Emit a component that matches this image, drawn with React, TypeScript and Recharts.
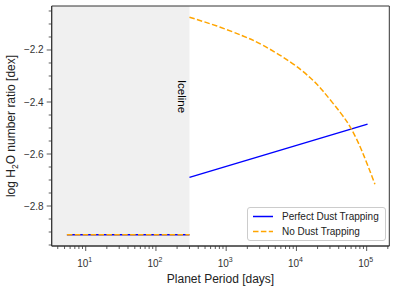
import { LineChart, Line, XAxis, YAxis, ReferenceArea, Legend } from "recharts";

// inner disc (inside the iceline): both models give the same ratio
const innerPerfect = [
  { p: 5.4, v: -2.911 },
  { p: 300, v: -2.911 },
];
const innerNoTrap = [
  { p: 5.4, v: -2.911 },
  { p: 300, v: -2.911 },
];

// outside the iceline
const outerPerfect = [
  { p: 300, v: -2.69 },
  { p: 103000, v: -2.485 },
];
const outerNoTrap = [
  { p: 300, v: -2.074 },
  { p: 740, v: -2.108 },
  { p: 1735, v: -2.146 },
  { p: 3340, v: -2.182 },
  { p: 8090, v: -2.245 },
  { p: 15600, v: -2.306 },
  { p: 23900, v: -2.358 },
  { p: 41700, v: -2.439 },
  { p: 59800, v: -2.501 },
  { p: 85800, v: -2.589 },
  { p: 131000, v: -2.716 },
];

const icelinePeriod = 300;
const xDomain = [3.28, 210000];
const yDomain = [-2.9538, -2.0308];

const xMajor = [10, 100, 1000, 10000, 100000];
const xMinor = [
  4, 5, 6, 7, 8, 9,
  20, 30, 40, 50, 60, 70, 80, 90,
  200, 300, 400, 500, 600, 700, 800, 900,
  2000, 3000, 4000, 5000, 6000, 7000, 8000, 9000,
  20000, 30000, 40000, 50000, 60000, 70000, 80000, 90000,
  200000,
];
const yMajor = [-2.8, -2.6, -2.4, -2.2];
const yMinor = [-2.95, -2.9, -2.85, -2.75, -2.7, -2.65, -2.55, -2.5, -2.45, -2.35, -2.3, -2.25, -2.15, -2.1, -2.05];

const FONT = "'Liberation Sans', Arial, sans-serif";
const INK = "#333";
const BLUE = "#0000ff";
const ORANGE = "#ffa500";
const DASH = "5.5 2.4";

const XTick = ({ x, y, payload }: any) => {
  const major = xMajor.includes(payload.value);
  const exp = Math.round(Math.log10(payload.value));
  return (
    <g>
      <line x1={x} x2={x} y1={y} y2={y + (major ? 5 : 3)} stroke={INK} strokeWidth={0.8} />
      {major && (
        <text x={x - 1} y={y + 21} textAnchor="middle" fontFamily={FONT} fontSize={10} fill={INK}>
          10
          <tspan dy={-5} fontSize={7}>{exp}</tspan>
        </text>
      )}
    </g>
  );
};

const YTick = ({ x, y, payload }: any) => {
  const major = yMajor.some((m) => Math.abs(m - payload.value) < 1e-6);
  return (
    <g>
      <line x1={x - (major ? 5 : 3)} x2={x} y1={y} y2={y} stroke={INK} strokeWidth={0.8} />
      {major && (
        <text x={x - 8} y={y} dy="0.35em" textAnchor="end" fontFamily={FONT} fontSize={10} fill={INK}>
          {"\u2212" + Math.abs(payload.value).toFixed(1)}
        </text>
      )}
    </g>
  );
};

const renderIceline = (props: any) => {
  const vb = props.viewBox || {};
  const x = (vb.x ?? 52) + (vb.width ?? 138) - 11;
  return (
    <text
      transform={`translate(${x}, 96.5) rotate(90)`}
      textAnchor="middle"
      fontFamily={FONT}
      fontSize={11.5}
      fill="#000"
    >
      Iceline
    </text>
  );
};

const renderLegend = () => (
  <div
    style={{
      boxSizing: "border-box",
      width: 139,
      height: 34,
      border: "1px solid #cccccc",
      borderRadius: 3,
      background: "rgba(255,255,255,0.8)",
      fontFamily: FONT,
      fontSize: 10,
      color: "#222",
      position: "relative",
    }}
  >
    {[
      { name: "Perfect Dust Trapping", color: BLUE, dash: undefined, top: 1 },
      { name: "No Dust Trapping", color: ORANGE, dash: DASH, top: 16 },
    ].map((it) => (
      <div key={it.name} style={{ position: "absolute", left: 4, top: it.top, height: 15, display: "flex", alignItems: "center" }}>
        <svg width={22} height={15} style={{ display: "block" }}>
          <line x1={1} x2={21} y1={7.5} y2={7.5} stroke={it.color} strokeWidth={1.5} strokeDasharray={it.dash} />
        </svg>
        <span style={{ marginLeft: 8, whiteSpace: "nowrap" }}>{it.name}</span>
      </div>
    ))}
  </div>
);

export default function App() {
  return (
    <div style={{ position: "absolute", left: 0, top: 0, width: 397, height: 291, background: "#fff" }}>
      <LineChart width={397} height={291} margin={{ top: 6, right: 7.7, left: 0, bottom: 0 }}>
        <XAxis
          dataKey="p"
          type="number"
          scale="log"
          domain={xDomain}
          allowDataOverflow
          ticks={[...xMinor, ...xMajor]}
          interval={0}
          tickSize={0}
          tickMargin={0}
          tick={<XTick />}
          tickLine={false}
          axisLine={{ stroke: INK, strokeWidth: 1 }}
          height={45}
          label={{
            value: "Planet Period [days]",
            position: "insideBottom",
            offset: 8,
            fontFamily: FONT,
            fontSize: 12,
            fill: "#222",
          }}
        />
        <YAxis
          type="number"
          domain={yDomain}
          allowDataOverflow
          ticks={[...yMinor, ...yMajor]}
          interval={0}
          tickSize={0}
          tickMargin={0}
          tick={<YTick />}
          tickLine={false}
          axisLine={{ stroke: INK, strokeWidth: 1 }}
          width={51.7}
        />
        <ReferenceArea
          x1={xDomain[0]}
          x2={icelinePeriod}
          y1={yDomain[0]}
          y2={yDomain[1]}
          fill="#f0f0f0"
          fillOpacity={1}
          stroke="none"
          label={renderIceline}
        />
        <ReferenceArea
          x1={xDomain[0]}
          x2={xDomain[1]}
          y1={yDomain[0]}
          y2={yDomain[1]}
          fill="none"
          stroke={INK}
          strokeWidth={1}
        />
        <Line data={innerPerfect} dataKey="v" stroke={BLUE} strokeWidth={1.5} dot={false} isAnimationActive={false} legendType="none" />
        <Line data={innerNoTrap} dataKey="v" stroke={ORANGE} strokeWidth={1.5} strokeDasharray={DASH} dot={false} isAnimationActive={false} legendType="none" />
        <Line data={outerPerfect} dataKey="v" name="Perfect Dust Trapping" stroke={BLUE} strokeWidth={1.5} dot={false} isAnimationActive={false} />
        <Line type="natural" data={outerNoTrap} dataKey="v" name="No Dust Trapping" stroke={ORANGE} strokeWidth={1.5} strokeDasharray={DASH} dot={false} isAnimationActive={false} />
        <Legend
          layout="vertical"
          verticalAlign="middle"
          align="center"
          content={renderLegend}
          wrapperStyle={{ position: "absolute", left: 247, top: 207, width: 139, height: 34 }}
        />
      </LineChart>
      <svg width={397} height={291} style={{ position: "absolute", left: 0, top: 0, pointerEvents: "none" }}>
        <text
          transform="translate(15, 126) rotate(-90)"
          textAnchor="middle"
          fontFamily={FONT}
          fontSize={12}
          fill="#222"
        >
          log H<tspan dy={3} fontSize={8.5}>2</tspan>
          <tspan dy={-3}>O number ratio [dex]</tspan>
        </text>
      </svg>
    </div>
  );
}
